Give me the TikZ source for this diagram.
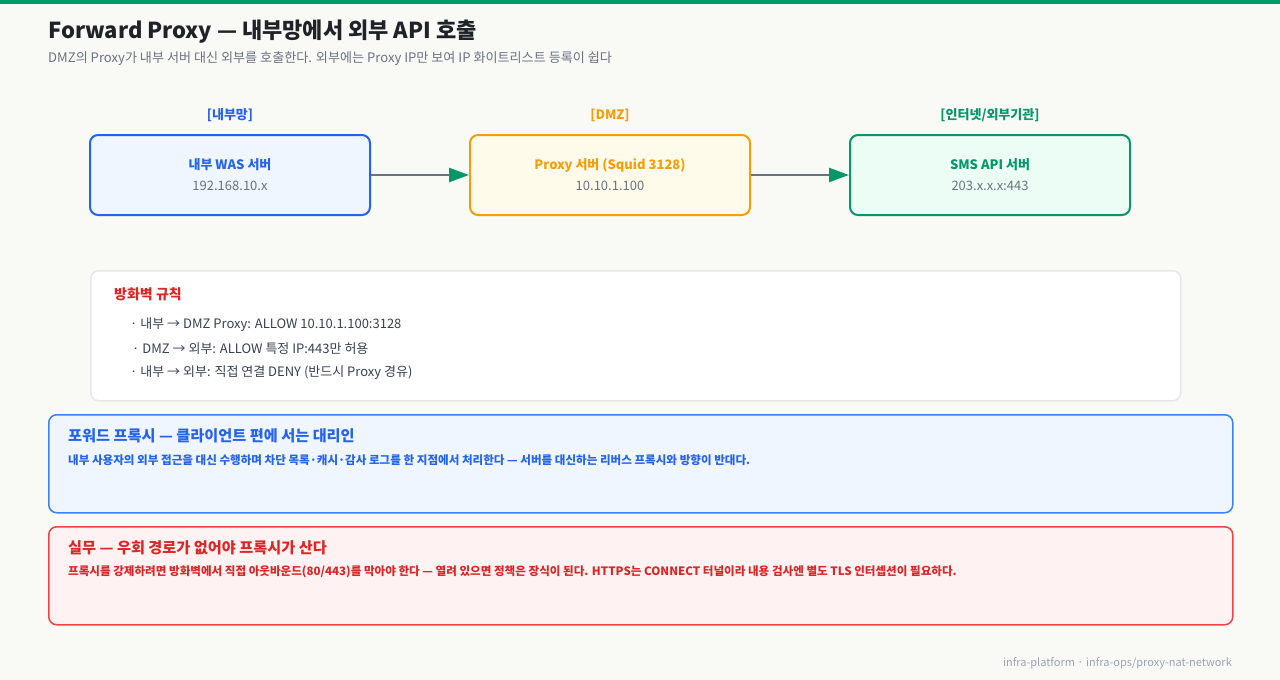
\documentclass[tikz,border=0pt]{standalone}
\usepackage{fontspec}
\setmainfont{Noto Sans CJK KR}
\usetikzlibrary{positioning, arrows.meta}
\definecolor{pagebg}{HTML}{F9F9F6}
\definecolor{topbar}{HTML}{059669}
\definecolor{ink}{HTML}{1F2328}
\definecolor{subink}{HTML}{6B7280}
\definecolor{bodyink}{HTML}{374151}
\definecolor{footink}{HTML}{9CA3AF}
\definecolor{inblue}{HTML}{2563EB}
\definecolor{inbluebg}{HTML}{EFF6FF}
\definecolor{dmzorange}{HTML}{F59E0B}
\definecolor{dmzbg}{HTML}{FFFBEB}
\definecolor{extgreen}{HTML}{059669}
\definecolor{extbg}{HTML}{ECFDF5}
\definecolor{fwred}{HTML}{DC2626}
\definecolor{fwline}{HTML}{E5E7EB}
\definecolor{noteblue}{HTML}{3B82F6}
\definecolor{notered}{HTML}{EF4444}
\definecolor{noteredbg}{HTML}{FEF2F2}
\tikzset{
    zone/.style={font=\fontsize{13}{15}\selectfont\bfseries},
    server/.style={rounded corners=8pt, minimum width=280pt, minimum height=80pt, line width=2pt, draw, align=center, font=\fontsize{13}{16}\selectfont},
    flow/.style={draw=subink, line width=2.5pt, -{Triangle[length=20pt, width=14pt, color=extgreen]}},
    rule/.style={anchor=west, inner sep=0pt, text=bodyink, font=\fontsize{13}{15}\selectfont},
    note/.style={rounded corners=8pt, line width=1.5pt, draw, anchor=north west, minimum width=1184pt, minimum height=98pt},
    notetitle/.style={anchor=west, inner sep=0pt, font=\fontsize{15.2}{18}\selectfont\bfseries},
    notebody/.style={anchor=west, inner sep=0pt, font=\fontsize{11.55}{14}\selectfont\bfseries}
}

\begin{document}
\begin{tikzpicture}[x=1pt, y=-1pt]
    \fill[pagebg] (0,0) rectangle (1280,680);
    \useasboundingbox (0,0) rectangle (1280,680);
    \fill[topbar] (0,0) rectangle (1280,4);

    \node[anchor=west, inner sep=0pt, text=ink, font=\fontsize{22}{26}\selectfont\bfseries] (title) at (48,32) {Forward Proxy — 내부망에서 외부 API 호출};
    \node[anchor=west, inner sep=0pt, text=subink, font=\fontsize{13.1}{15}\selectfont] (subtitle) at (48,59) {DMZ의 Proxy가 내부 서버 대신 외부를 호출한다. 외부에는 Proxy IP만 보여 IP 화이트리스트 등록이 쉽다};

    \node[server, draw=inblue, fill=inbluebg] (was) at (230,175) {{\bfseries\color{inblue}내부 WAS 서버}\\[5pt]{\color{subink}192.168.10.x}};
    \node[server, draw=dmzorange, fill=dmzbg] (proxy) at (610,175) {{\bfseries\color{dmzorange}Proxy 서버 (Squid 3128)}\\[5pt]{\color{subink}10.10.1.100}};
    \node[server, draw=extgreen, fill=extbg] (sms) at (990,175) {{\bfseries\color{extgreen}SMS API 서버}\\[5pt]{\color{subink}203.x.x.x:443}};

    \node[zone, text=inblue, above=9pt of was] (inzone) {[내부망]};
    \node[zone, text=dmzorange, above=9pt of proxy] (dmzzone) {[DMZ]};
    \node[zone, text=extgreen, above=9pt of sms] (extzone) {[인터넷/외부기관]};

    \draw[flow] (was) -- (proxy);
    \draw[flow] (proxy) -- (sms);

    \node[rounded corners=8pt, line width=1.5pt, draw=fwline, fill=white, anchor=north west, minimum width=1090pt, minimum height=130pt] (fwbox) at (90,270) {};
    \node[anchor=west, inner sep=0pt, text=fwred, font=\fontsize{14}{17}\selectfont\bfseries] (fwtitle) at (114,294) {방화벽 규칙};
    \node[rule] (fw1) at (130,325) {· 내부 → DMZ Proxy: ALLOW 10.10.1.100:3128};
    \node[rule] (fw2) at (132,349) {· DMZ → 외부: ALLOW 특정 IP:443만 허용};
    \node[rule] (fw3) at (130,373) {· 내부 → 외부: 직접 연결 DENY (반드시 Proxy 경유)};

    \node[note, draw=noteblue, fill=inbluebg] (fwdnote) at (48,414) {};
    \node[notetitle, text=inblue] (fwdtitle) at (68,436) {포워드 프록시 — 클라이언트 편에 서는 대리인};
    \node[notebody, text=inblue] (fwdbody) at (68,460) {내부 사용자의 외부 접근을 대신 수행하며 차단 목록·캐시·감사 로그를 한 지점에서 처리한다 — 서버를 대신하는 리버스 프록시와 방향이 반대다.};

    \node[note, draw=notered, fill=noteredbg] (opsnote) at (48,526) {};
    \node[notetitle, text=fwred] (opstitle) at (68,548) {실무 — 우회 경로가 없어야 프록시가 산다};
    \node[notebody, text=fwred] (opsbody) at (68,572) {프록시를 강제하려면 방화벽에서 직접 아웃바운드(80/443)를 막아야 한다 — 열려 있으면 정책은 장식이 된다. HTTPS는 CONNECT 터널이라 내용 검사엔 별도 TLS 인터셉션이 필요하다.};

    \node[anchor=east, inner sep=0pt, text=footink, font=\fontsize{11}{13}\selectfont] (footer) at (1232,663) {infra-platform · infra-ops/proxy-nat-network};
\end{tikzpicture}
\end{document}
